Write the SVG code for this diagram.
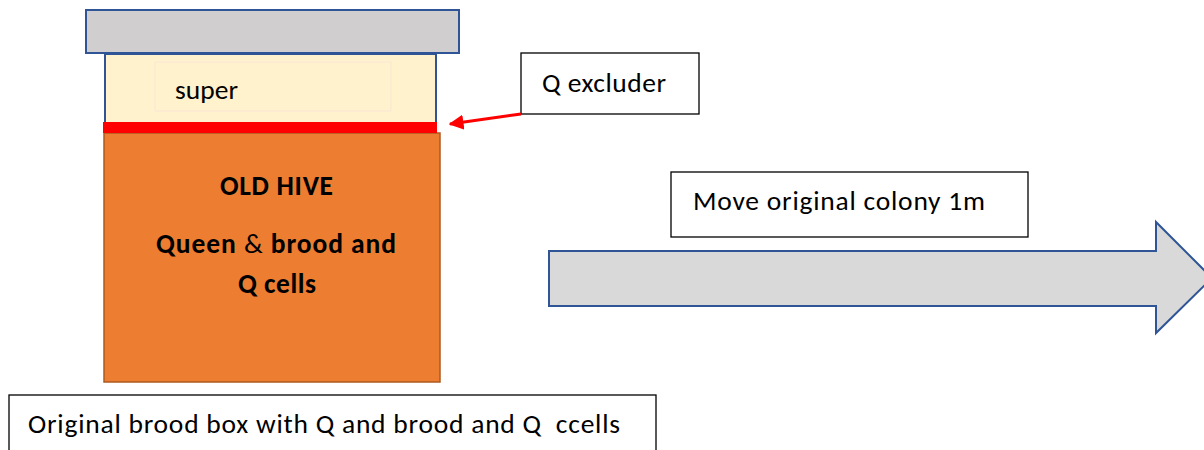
<svg xmlns="http://www.w3.org/2000/svg" width="1204" height="450" viewBox="0 0 1204 450">
<defs>
<style>
text{font-family:Carlito,"Liberation Sans","Noto Sans",sans-serif;fill:#000;}
.lbl{font-size:27.5px;}
.b{font-weight:bold;}
.box{fill:#fff;stroke:#000;stroke-width:1.3;}
.blue{stroke:#2F5597;stroke-width:2;}
</style>
<marker id="ah" viewBox="0 0 10 10" refX="9" refY="5" markerWidth="5" markerHeight="5" orient="auto" markerUnits="strokeWidth">
<path d="M0,0 L10,5 L0,10 z" fill="#FF0000"/>
</marker>
</defs>
<rect width="1204" height="450" fill="#fff"/>
<g id="roof"><rect x="86" y="10" width="373" height="43" fill="#D0CECE" class="blue"/></g>
<g id="super">
<rect x="105" y="54" width="331" height="70" fill="#FFF2CC" class="blue"/>
<rect x="155" y="62" width="236" height="49" fill="none" stroke="#FBE5D6" stroke-width="1"/>
<text x="175" y="99" class="lbl" textLength="63">super</text>
</g>
<g id="old-hive">
<rect x="104" y="133" width="336" height="249" fill="#ED7D31" stroke="#AE5A21" stroke-width="1.5"/>
<text x="220" y="195" class="lbl b" textLength="113">OLD HIVE</text>
<text x="156" y="253" class="lbl" textLength="240"><tspan class="b">Queen</tspan> &amp; <tspan class="b">brood and</tspan></text>
<text x="238" y="293" class="lbl b" textLength="78">Q cells</text>
</g>
<g id="excluder"><rect x="103" y="122" width="334" height="11" fill="#FF0000"/></g>
<g id="q-excluder-label">
<rect x="521" y="53" width="178" height="61" class="box"/>
<text x="542" y="92" class="lbl" textLength="124">Q excluder</text>
</g>
<g id="move-label">
<rect x="671" y="172" width="357" height="65" class="box"/>
<text x="693" y="210" class="lbl" textLength="292">Move original colony 1m</text>
</g>
<g id="move-arrow">
<path d="M549,251 L1156,251 L1156,222 L1212,278 L1156,333 L1156,306 L549,306 Z" fill="#D9D9D9" class="blue"/>
</g>
<g id="bottom-label">
<rect x="9" y="395" width="647" height="70" class="box"/>
<text x="28" y="433" class="lbl" textLength="592">Original brood box with Q and brood and Q&#160; ccells</text>
</g>
<g id="connectors">
<line x1="521" y1="114" x2="450" y2="124" stroke="#FF0000" stroke-width="3" marker-end="url(#ah)"/>
</g>
</svg>
